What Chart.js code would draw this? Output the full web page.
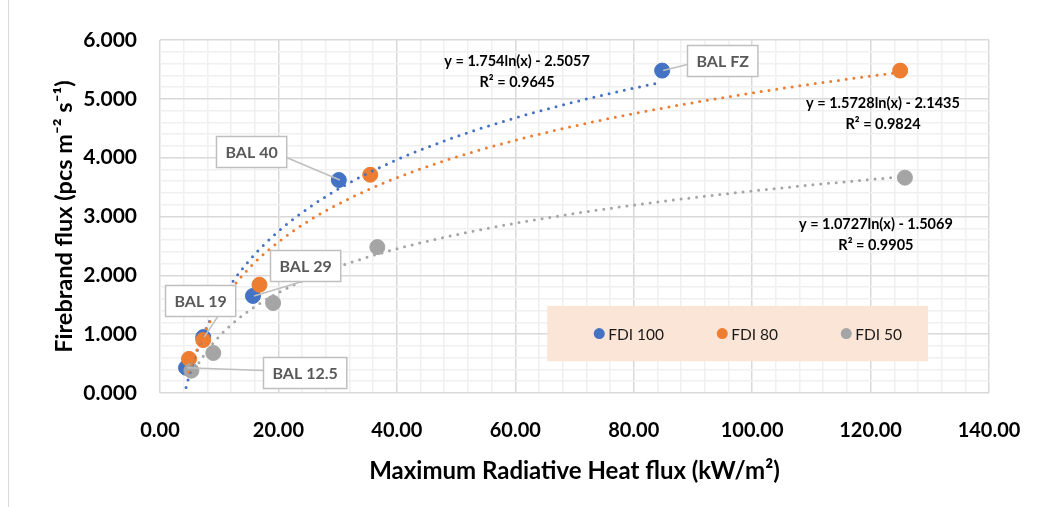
<!DOCTYPE html>
<html>
<head>
<meta charset="utf-8">
<script src="https://cdn.jsdelivr.net/npm/chart.js@4.4.1/dist/chart.umd.min.js"></script>
<style>
  html, body { margin: 0; padding: 0; background: #fff; }
  #wrap { position: relative; width: 1042px; height: 507px; }
</style>
</head>
<body>
<div id="wrap"><canvas id="fluxChart"></canvas></div>
<script>
// ---- data ----
const seriesNames = ['FDI 100', 'FDI 80', 'FDI 50'];
const fdi100X = [4.4, 7.3, 15.7, 30.2, 84.8];
const fdi100Y = [0.43, 0.95, 1.65, 3.62, 5.48];
const fdi80X = [4.9, 7.3, 16.8, 35.5, 125.0];
const fdi80Y = [0.58, 0.90, 1.84, 3.71, 5.48];
const fdi50X = [5.3, 9.0, 19.1, 36.7, 125.8];
const fdi50Y = [0.38, 0.68, 1.53, 2.48, 3.66];

// logarithmic trendlines y = a ln(x) + b as printed on the chart
const trendA = [1.754, 1.5728, 1.0727];
const trendB = [-2.5057, -2.1435, -1.5069];
const trendEquations = ['y = 1.754ln(x) - 2.5057', 'y = 1.5728ln(x) - 2.1435', 'y = 1.0727ln(x) - 1.5069'];
const trendR2 = ['R² = 0.9645', 'R² = 0.9824', 'R² = 0.9905'];

// BAL callouts, one per FDI 100 point
const balLabels = ['BAL 12.5', 'BAL 19', 'BAL 29', 'BAL 40', 'BAL FZ'];

const xTickLabels = ['0.00', '20.00', '40.00', '60.00', '80.00', '100.00', '120.00', '140.00'];
const yTickLabels = ['0.000', '1.000', '2.000', '3.000', '4.000', '5.000', '6.000'];

// ---- styling ----
const colors = ['#4472C4', '#ED7D31', '#A5A5A5'];
const FONT = 'Lato, "Open Sans", sans-serif';

// where annotations sit (data coords for anchor)
const eqAnchors = [{x: 60.3, y: 5.63}, {x: 122.1, y: 4.93}, {x: 120.9, y: 2.87}];
// callout box offsets from the point in px, plus leader start relative to box top-left
const calloutBoxes = [
    {dx: 77, dy: -11, lx: 0, ly: 13},
    {dx: -38, dy: -52, lx: 53, ly: 30},
    {dx: 17, dy: -46, lx: 35, ly: 30},
    {dx: -123, dy: -44, lx: 70, ly: 21},
    {dx: 25, dy: -26, lx: 0, ly: 19}
];
const legendBox = {x1: 65.4, y1: 1.48, x2: 129.7, y2: 0.54};

function toPoints(xs, ys) {
    return xs.map((x, i) => ({x: x, y: ys[i]}));
}

const seriesData = [toPoints(fdi100X, fdi100Y), toPoints(fdi80X, fdi80Y), toPoints(fdi50X, fdi50Y)];

function isWhole(v, step) {
    return Math.abs(v / step - Math.round(v / step)) < 1e-6;
}

const backgroundPlugin = {
    id: 'bg',
    beforeDraw(chart) {
        const ctx = chart.ctx;
        ctx.save();
        ctx.fillStyle = '#fff';
        ctx.fillRect(0, 0, chart.width, chart.height);
        ctx.strokeStyle = '#d9d9d9';
        ctx.lineWidth = 1;
        ctx.beginPath();
        ctx.moveTo(8.5, 0);
        ctx.lineTo(8.5, chart.height);
        ctx.stroke();
        ctx.restore();
    }
};

const trendPlugin = {
    id: 'trends',
    afterDatasetsDraw(chart) {
        const ctx = chart.ctx;
        const xs = chart.scales.x, ys = chart.scales.y;
        ctx.save();
        seriesData.forEach((pts, s) => {
            const xVals = pts.map(p => p.x);
            const p0 = xs.getPixelForValue(Math.min(...xVals));
            const p1 = xs.getPixelForValue(Math.max(...xVals));
            ctx.beginPath();
            for (let px = p0; px <= p1 + 0.01; px += 1) {
                const xv = xs.getValueForPixel(Math.min(px, p1));
                const yv = trendA[s] * Math.log(xv) + trendB[s];
                const py = ys.getPixelForValue(yv);
                if (px === p0) ctx.moveTo(px, py); else ctx.lineTo(px, py);
            }
            ctx.strokeStyle = colors[s];
            ctx.lineWidth = 3;
            ctx.lineCap = 'round';
            ctx.setLineDash([0, 7.8]);
            ctx.stroke();
        });
        ctx.restore();
    },
    afterDraw(chart) {
        const ctx = chart.ctx;
        const xs = chart.scales.x, ys = chart.scales.y;
        ctx.save();

        // equations
        ctx.fillStyle = '#000';
        ctx.textAlign = 'center';
        ctx.textBaseline = 'middle';
        ctx.font = 'bold 14.5px ' + FONT;
        eqAnchors.forEach((a, s) => {
            const cx = xs.getPixelForValue(a.x), cy = ys.getPixelForValue(a.y);
            ctx.fillText(trendEquations[s], cx, cy);
            ctx.fillText(trendR2[s], cx, cy + 21);
        });

        // legend
        const lx1 = xs.getPixelForValue(legendBox.x1), ly1 = ys.getPixelForValue(legendBox.y1);
        const lx2 = xs.getPixelForValue(legendBox.x2), ly2 = ys.getPixelForValue(legendBox.y2);
        ctx.fillStyle = '#FBE5D6';
        ctx.fillRect(lx1, ly1, lx2 - lx1, ly2 - ly1);
        ctx.font = '15.5px ' + FONT;
        ctx.textAlign = 'left';
        const itemX = [lx1 + 52, lx1 + 175, lx1 + 299];
        const midY = (ly1 + ly2) / 2;
        seriesNames.forEach((name, s) => {
            ctx.fillStyle = colors[s];
            ctx.beginPath();
            ctx.arc(itemX[s], midY, 5.5, 0, Math.PI * 2);
            ctx.fill();
            ctx.fillStyle = '#1a1a1a';
            ctx.fillText(name, itemX[s] + 9, midY + 1);
        });

        // BAL callouts
        ctx.font = 'bold 16px ' + FONT;
        balLabels.forEach((label, i) => {
            const pt = seriesData[0][i];
            const px = xs.getPixelForValue(pt.x), py = ys.getPixelForValue(pt.y);
            const b = calloutBoxes[i];
            const w = ctx.measureText(label).width + 18, h = 31;
            const bx = Math.round(px + b.dx) + 0.5, by = Math.round(py + b.dy) + 0.5;
            ctx.strokeStyle = '#bfbfbf';
            ctx.lineWidth = 1.5;
            ctx.beginPath();
            ctx.moveTo(bx + b.lx, by + b.ly);
            ctx.lineTo(px + 1, py);
            ctx.stroke();
            ctx.fillStyle = '#fff';
            ctx.fillRect(bx, by, w, h);
            ctx.strokeRect(bx, by, w, h);
            ctx.fillStyle = '#595959';
            ctx.textAlign = 'center';
            ctx.fillText(label, bx + w / 2, by + h / 2 + 1);
        });
        ctx.restore();
    }
};

const datasets = seriesNames.map((name, s) => ({
    label: name,
    data: seriesData[s],
    backgroundColor: colors[s],
    borderColor: colors[s],
    pointRadius: 7.5,
    pointHoverRadius: 7.5,
    showLine: false,
    order: 3 - s
}));

const ctx = document.getElementById('fluxChart').getContext('2d');
const fluxChart = new Chart(ctx, {
    type: 'scatter',
    data: { datasets: datasets },
    options: {
        responsive: true,
        maintainAspectRatio: false,
        animation: false,
        events: [],
        layout: { padding: { left: 0, top: 40, right: 53, bottom: 0 } },
        plugins: {
            legend: { display: false },
            tooltip: { enabled: false }
        },
        scales: {
            x: {
                type: 'linear',
                min: 0,
                max: 140,
                afterFit: (scale) => {
                    scale.height = 114;
                    scale.paddingLeft = 0;
                    scale.paddingRight = 0;
                },
                afterBuildTicks: (scale) => {
                    const t = [];
                    for (let v = 0; v <= 140 + 1e-6; v += 4) t.push({value: v});
                    scale.ticks = t;
                },
                ticks: {
                    autoSkip: false,
                    maxRotation: 0,
                    padding: 26,
                    color: '#000',
                    font: { family: FONT, size: 20, weight: 'bold' },
                    callback: (v) => isWhole(v, 20) ? xTickLabels[Math.round(v / 20)] : ''
                },
                grid: {
                    drawTicks: false,
                    color: (c) => isWhole(c.tick.value, 20) ? '#d9d9d9' : '#f0f0f0',
                    lineWidth: 1.5
                },
                border: { display: false },
                title: {
                    display: true,
                    text: 'Maximum Radiative Heat flux (kW/m²)',
                    color: '#000',
                    font: { family: FONT, size: 24, weight: 'bold' },
                    padding: { top: 21, bottom: 21 }
                }
            },
            y: {
                type: 'linear',
                min: 0,
                max: 6,
                afterFit: (scale) => {
                    scale.width = 160;
                    scale.paddingTop = 0;
                    scale.paddingBottom = 0;
                },
                afterBuildTicks: (scale) => {
                    const t = [];
                    for (let i = 0; i <= 30; i++) t.push({value: i * 0.2});
                    scale.ticks = t;
                },
                ticks: {
                    autoSkip: false,
                    padding: 23,
                    color: '#000',
                    font: { family: FONT, size: 21, weight: 'bold' },
                    callback: (v) => isWhole(v, 1) ? yTickLabels[Math.round(v)] : ''
                },
                grid: {
                    drawTicks: false,
                    color: (c) => isWhole(c.tick.value, 1) ? '#d9d9d9' : '#f0f0f0',
                    lineWidth: 1.5
                },
                border: { display: false },
                title: {
                    display: true,
                    text: 'Firebrand flux (pcs m⁻² s⁻¹)',
                    color: '#000',
                    font: { family: FONT, size: 23.5, weight: 'bold' },
                    padding: { top: 50, bottom: 0 }
                }
            }
        }
    },
    plugins: [backgroundPlugin, trendPlugin]
});
</script>
</body>
</html>
